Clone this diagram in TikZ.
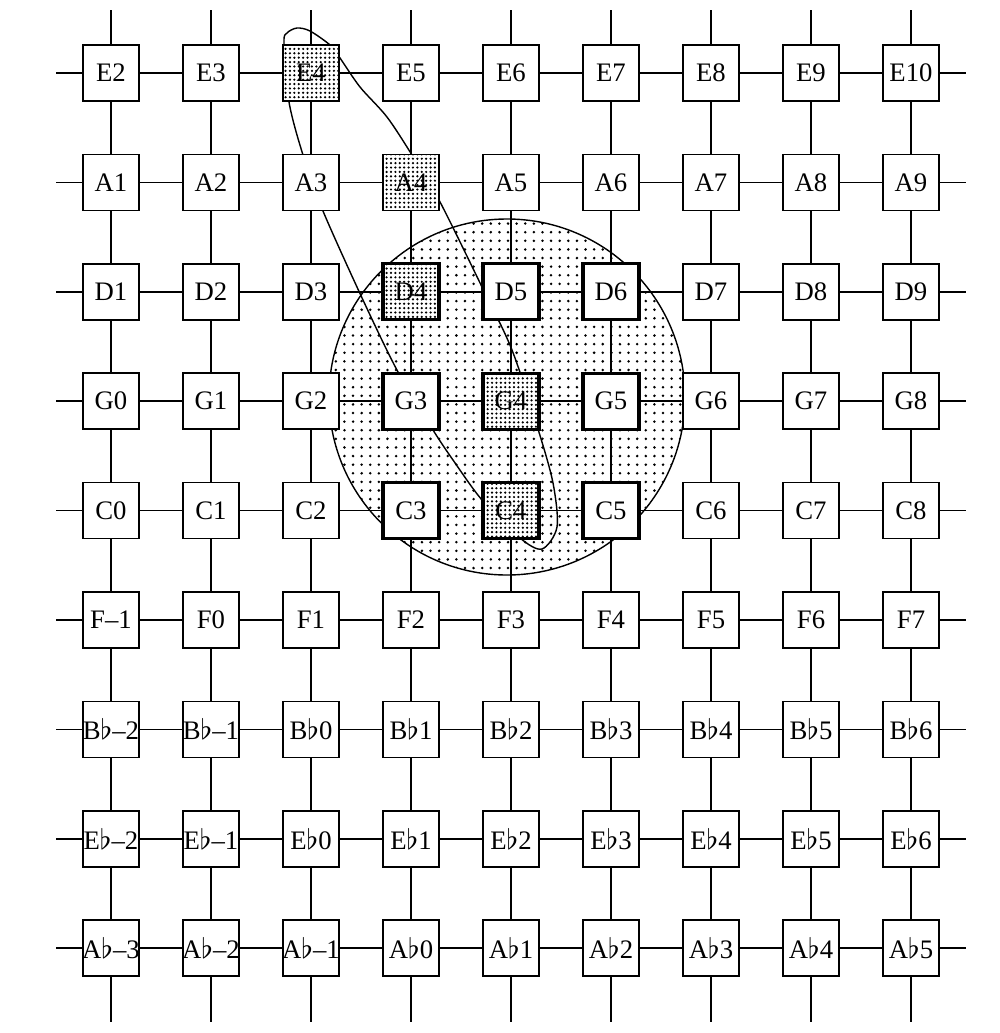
\documentclass[tikz,border=0pt]{standalone}
\usepackage{fontspec}
\setmainfont{Liberation Serif}
\usetikzlibrary{patterns,backgrounds}

\pgfdeclarepatternformonly{sparsedots}{\pgfqpoint{-0.5pt}{-0.5pt}}{\pgfqpoint{0.5pt}{0.5pt}}{\pgfqpoint{2.45pt}{2.45pt}}{%
\pgfpathcircle{\pgfpointorigin}{0.4pt}\pgfusepath{fill}}
\pgfdeclarepatternformonly{densedots}{\pgfqpoint{-0.5pt}{-0.5pt}}{\pgfqpoint{0.5pt}{0.5pt}}{\pgfqpoint{1.25pt}{1.25pt}}{%
\pgfpathcircle{\pgfpointorigin}{0.35pt}\pgfusepath{fill}}

\tikzset{
note/.style={draw, fill=white, minimum size=5.6mm, inner sep=0pt, line width=0.5pt,
  font=\fontsize{7.6}{9}\selectfont},
inner/.style={line width=0.95pt},
marked/.style={preaction={fill=white}, pattern=densedots},
}

\begin{document}
\begin{tikzpicture}[line width=0.5pt,
k02/.style={marked}, k13/.style={marked},
k23/.style={inner,marked}, k24/.style={inner}, k25/.style={inner},
k33/.style={inner}, k34/.style={inner,marked}, k35/.style={inner},
k43/.style={inner}, k44/.style={inner,marked}, k45/.style={inner}]
\useasboundingbox (-1.11,0.73) rectangle (8.89,-9.60);

% one row per line of fifths
\foreach \L/\s/\r in {E/2/0, A/1/1, D/1/2, G/0/3, C/0/4, F/-1/5,
  B$\flat$/-2/6, E$\flat$/-2/7, A$\flat$/-3/8} {
  \foreach \c in {0,...,8} {
    \pgfmathtruncatemacro\n{\s+\c}
    \node[note, k\r\c/.try] (n\r\c) at (\c,-1.094*\r)
      {\makebox[0pt]{\L\ifnum\n<0 --\the\numexpr-\n\relax\else\n\fi}};
  }
}

% loose ends of the lattice
\foreach \r in {0,...,8} {
  \coordinate (wl\r) at (-0.55,-1.094*\r);
  \coordinate (wr\r) at (8.55,-1.094*\r);
}
\foreach \c in {0,...,8} {
  \coordinate (vt\c) at (\c,0.63);
  \coordinate (vb\c) at (\c,-9.49);
}

\foreach \r in {0,...,8} {
  \draw (wl\r) -- (n\r0);
  \foreach \c [evaluate=\c as \d using int(\c+1)] in {0,...,7}
    \draw (n\r\c) -- (n\r\d);
  \draw (n\r8) -- (wr\r);
}
\foreach \c in {0,...,8} {
  \draw (vt\c) -- (n0\c);
  \foreach \r [evaluate=\r as \d using int(\r+1)] in {0,...,7}
    \draw (n\r\c) -- (n\d\c);
  \draw (n8\c) -- (vb\c);
}

\begin{scope}[on background layer]
\draw[line width=0.4pt, pattern=sparsedots] (3.96,-3.24) circle (1.78);
\draw[line width=0.4pt] plot[smooth cycle] coordinates {
  (1.86,0.45) (1.99,0.42) (2.19,0.28) (2.29,0.15) (2.49,-0.14) (2.76,-0.44)
  (3.01,-0.82) (3.28,-1.27) (3.71,-2.14) (4.01,-2.77) (4.27,-3.56) (4.42,-4.10)
  (4.46,-4.54) (4.31,-4.76) (4.09,-4.65) (3.71,-4.27) (3.42,-3.87) (3.22,-3.57)
  (2.87,-2.99) (2.52,-2.27) (2.12,-1.38) (1.92,-0.82) (1.78,-0.29) (1.73,0.30)
  (1.76,0.40)};
\end{scope}
\end{tikzpicture}
\end{document}
